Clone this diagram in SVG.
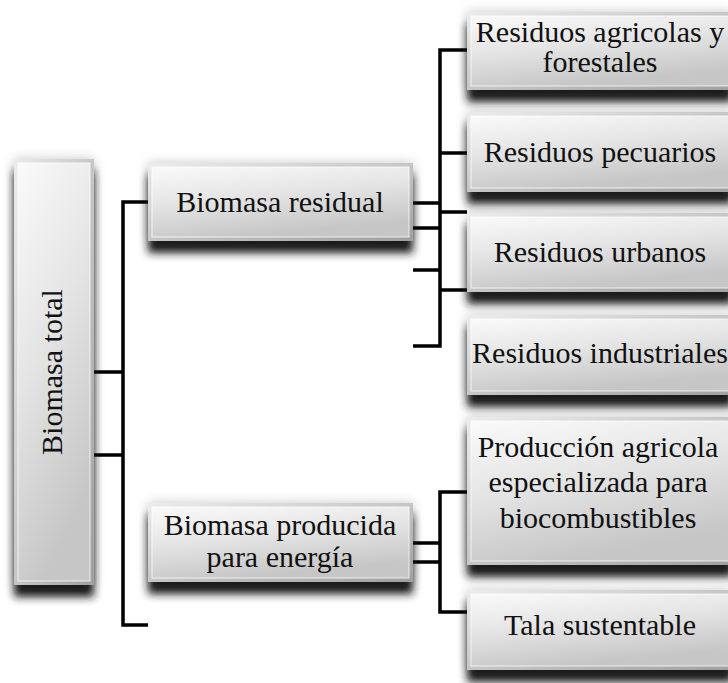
<svg xmlns="http://www.w3.org/2000/svg" width="728" height="683" viewBox="0 0 728 683">
  <defs>
    <linearGradient id="face" x1="0" y1="0" x2="0.35" y2="1">
      <stop offset="0" stop-color="#fafafa"/>
      <stop offset="0.5" stop-color="#e4e4e4"/>
      <stop offset="1" stop-color="#c6c6c6"/>
    </linearGradient>
    <linearGradient id="rim" x1="0" y1="0" x2="1" y2="1">
      <stop offset="0" stop-color="#ececec"/>
      <stop offset="1" stop-color="#a0a0a0"/>
    </linearGradient>
    <filter id="drop" x="-20%" y="-20%" width="140%" height="170%">
      <!-- soft halo around the sides -->
      <feGaussianBlur in="SourceAlpha" stdDeviation="6" result="halo0"/>
      <feFlood flood-color="#000" flood-opacity="0.22"/>
      <feComposite in2="halo0" operator="in" result="halo"/>
      <!-- dark cast shadow below -->
      <feGaussianBlur in="SourceAlpha" stdDeviation="4.5" result="b0"/>
      <feOffset in="b0" dx="0" dy="12" result="b"/>
      <feFlood flood-color="#1a1a1a" flood-opacity="1"/>
      <feComposite in2="b" operator="in" result="s"/>
      <feMerge>
        <feMergeNode in="halo"/>
        <feMergeNode in="s"/>
        <feMergeNode in="SourceGraphic"/>
      </feMerge>
    </filter>
  </defs>
  <style>
    .box { fill: url(#rim); filter: url(#drop); }
    .inner { fill: url(#face); stroke: #ffffff; stroke-opacity: 0.75; stroke-width: 1; }
    .lbl { font-family: "Liberation Serif", "Times New Roman", serif; font-size: 30px; fill: #111; text-anchor: middle; }
    .wire { fill: none; stroke: #000; stroke-width: 3.5; stroke-linecap: butt; stroke-linejoin: miter; }
  </style>
  <rect width="728" height="683" fill="#ffffff"/>

  <g id="connectors">
    <path class="wire" d="M148,202 H123 V625 H148"/>
    <path class="wire" d="M94,372 H123 M94,455 H123"/>
    <path class="wire" d="M467,50 H440 V346 H413"/>
    <path class="wire" d="M440,153 H467 M440,212 H467 M440,290 H467"/>
    <path class="wire" d="M413,203 H440 M413,228 H440 M413,270 H440"/>
    <path class="wire" d="M467,492 H440 V612 H467"/>
    <path class="wire" d="M413,543 H440 M413,562 H440"/>
  </g>

  <g id="biomasa-total">
    <rect class="box" x="14" y="159" width="80" height="426"/>
    <rect class="inner" x="18" y="163" width="72" height="418"/>
    <text class="lbl" transform="translate(62,372) rotate(-90)" x="0" y="0">Biomasa total</text>
  </g>

  <g id="biomasa-residual">
    <rect class="box" x="148" y="163" width="265" height="78"/>
    <rect class="inner" x="152" y="167" width="257" height="70"/>
    <text class="lbl" x="280" y="212">Biomasa residual</text>
  </g>

  <g id="biomasa-producida">
    <rect class="box" x="148" y="503" width="265" height="79"/>
    <rect class="inner" x="152" y="507" width="257" height="71"/>
    <text class="lbl" x="280" y="535">Biomasa producida</text>
    <text class="lbl" x="280" y="567">para energía</text>
  </g>

  <g id="residuos-agricolas">
    <rect class="box" x="467" y="12" width="266" height="78"/>
    <rect class="inner" x="471" y="16" width="258" height="70"/>
    <text class="lbl" x="600" y="42">Residuos agricolas y</text>
    <text class="lbl" x="600" y="72">forestales</text>
  </g>

  <g id="residuos-pecuarios">
    <rect class="box" x="467" y="112" width="266" height="80"/>
    <rect class="inner" x="471" y="116" width="258" height="72"/>
    <text class="lbl" x="600" y="162">Residuos pecuarios</text>
  </g>

  <g id="residuos-urbanos">
    <rect class="box" x="467" y="213" width="266" height="79"/>
    <rect class="inner" x="471" y="217" width="258" height="71"/>
    <text class="lbl" x="600" y="262">Residuos urbanos</text>
  </g>

  <g id="residuos-industriales">
    <rect class="box" x="467" y="315" width="266" height="80"/>
    <rect class="inner" x="471" y="319" width="258" height="72"/>
    <text class="lbl" x="600" y="363">Residuos industriales</text>
  </g>

  <g id="produccion-agricola">
    <rect class="box" x="467" y="417" width="266" height="148"/>
    <rect class="inner" x="471" y="421" width="258" height="140"/>
    <text class="lbl" x="598" y="457">Producción agricola</text>
    <text class="lbl" x="598" y="492">especializada para</text>
    <text class="lbl" x="598" y="528">biocombustibles</text>
  </g>

  <g id="tala-sustentable">
    <rect class="box" x="467" y="590" width="266" height="80"/>
    <rect class="inner" x="471" y="594" width="258" height="72"/>
    <text class="lbl" x="600" y="635">Tala sustentable</text>
  </g>
</svg>
